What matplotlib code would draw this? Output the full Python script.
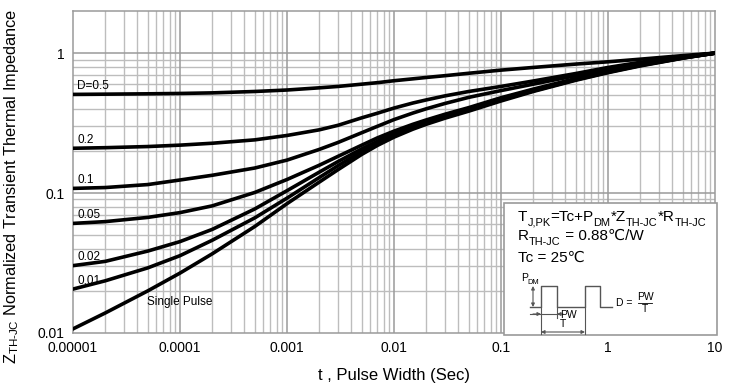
import numpy as np
import matplotlib.pyplot as plt
from matplotlib.patches import Rectangle
from matplotlib.transforms import offset_copy

plt.rcParams['font.family'] = ['Liberation Sans', 'DejaVu Sans']
plt.rcParams['mathtext.fontset'] = 'custom'
plt.rcParams['mathtext.rm'] = 'Liberation Sans'
plt.rcParams['mathtext.it'] = 'Liberation Sans'
plt.rcParams['mathtext.bf'] = 'Liberation Sans:bold'

# pulse width (s)
t = [1e-5, 2e-5, 5e-5, 1e-4, 2e-4, 5e-4, 1e-3, 2e-3, 3e-3, 5e-3, 7e-3, 1e-2,
     1.5e-2, 2e-2, 3e-2, 5e-2, 0.1, 0.2, 0.5, 1, 2, 5, 10]

# normalized Zth-jc
z_d05 = [0.507, 0.509, 0.512, 0.515, 0.52, 0.532, 0.545, 0.565, 0.578, 0.60, 0.615, 0.635,
         0.655, 0.67, 0.69, 0.718, 0.756, 0.79, 0.835, 0.867, 0.905, 0.96, 1.0]
z_d02 = [0.209, 0.211, 0.215, 0.22, 0.227, 0.24, 0.258, 0.283, 0.305, 0.345, 0.372, 0.405,
         0.44, 0.463, 0.495, 0.532, 0.578, 0.632, 0.715, 0.79, 0.86, 0.945, 1.0]
z_d01 = [0.108, 0.1095, 0.115, 0.124, 0.134, 0.151, 0.172, 0.205, 0.23, 0.27, 0.30, 0.335,
         0.373, 0.40, 0.437, 0.483, 0.54, 0.60, 0.69, 0.77, 0.845, 0.935, 1.0]
z_d005 = [0.0607, 0.0625, 0.067, 0.0725, 0.081, 0.101, 0.125, 0.158, 0.183, 0.22, 0.248, 0.277,
          0.31, 0.333, 0.366, 0.408, 0.48, 0.553, 0.658, 0.745, 0.827, 0.928, 1.0]
z_d002 = [0.0303, 0.0325, 0.0385, 0.045, 0.055, 0.077, 0.104, 0.141, 0.168, 0.207, 0.235, 0.266,
          0.30, 0.323, 0.357, 0.40, 0.47, 0.543, 0.65, 0.735, 0.82, 0.925, 1.0]
z_d001 = [0.0206, 0.0236, 0.0292, 0.0357, 0.046, 0.0665, 0.092, 0.129, 0.157, 0.198, 0.227, 0.258,
          0.292, 0.316, 0.35, 0.392, 0.463, 0.537, 0.645, 0.73, 0.815, 0.923, 1.0]
z_single = [0.0107, 0.0139, 0.020, 0.0268, 0.0368, 0.0577, 0.084, 0.1197, 0.147, 0.189, 0.219, 0.251,
            0.286, 0.31, 0.343, 0.385, 0.455, 0.532, 0.64, 0.725, 0.81, 0.92, 1.0]

curves = [z_d05, z_d02, z_d01, z_d005, z_d002, z_d001, z_single]
labels = ['D=0.5', '0.2', '0.1', '0.05', '0.02', '0.01', None]

x_ticks = [1e-5, 1e-4, 1e-3, 1e-2, 0.1, 1, 10]
x_ticklabels = ['0.00001', '0.0001', '0.001', '0.01', '0.1', '1', '10']
y_ticks = [0.01, 0.1, 1]
y_ticklabels = ['0.01', '0.1', '1']

fig = plt.figure(figsize=(7.37, 3.89), dpi=100)
ax = fig.add_axes([73/737, 1-333/389, 642/737, 322/389])
ax.set_xscale('log')
ax.set_yscale('log')
ax.set_xlim(1e-5, 10)
ax.set_ylim(0.01, 2)

# grid
for dec in range(-5, 1):
    for k in range(2, 10):
        ax.axvline(k * 10.0**dec, color='#bdbdbd', lw=1.0, zorder=0)
for dec in range(-2, 0):
    for k in range(2, 10):
        ax.axhline(k * 10.0**dec, color='#bdbdbd', lw=1.0, zorder=0)
for v in x_ticks[1:-1]:
    ax.axvline(v, color='#9a9a9a', lw=1.1, zorder=0)
ax.axhline(0.1, color='#9a9a9a', lw=1.1, zorder=0)
ax.axhline(1, color='#9a9a9a', lw=1.1, zorder=0)

for z, lab in zip(curves, labels):
    ax.plot(t, z, color='black', lw=2.6, solid_joinstyle='round', zorder=3)
    if lab:
        ax.text(1.1e-5, z[0] * 1.15, lab, fontsize=8.5, ha='left', va='center', zorder=4)
ax.text(1e-4, 0.0167, 'Single Pulse', fontsize=8.5, ha='center', va='center', zorder=4)

ax.set_xticks(x_ticks)
ax.set_xticklabels(x_ticklabels)
ax.set_yticks(y_ticks)
ax.set_yticklabels(y_ticklabels)
ax.minorticks_off()
ax.tick_params(length=0, labelsize=10, pad=6)
for s in ax.spines.values():
    s.set_color('#9a9a9a')
    s.set_linewidth(1.1)

ax.set_xlabel('t , Pulse Width (Sec)', fontsize=12, labelpad=9)
ax.set_ylabel(r'Z$_{\text{TH-JC}}$ Normalized Transient Thermal Impedance', fontsize=11.8)
ax.yaxis.set_label_coords(-0.081, 0.455)

# info box, drawn in figure pixel coordinates
box = fig.add_axes([503/737, 1-336/389, 215/737, 134/389])
box.set_xlim(503, 718)
box.set_ylim(336, 202)
box.axis('off')
box.add_patch(Rectangle((503.5, 202.5), 213.5, 132.5, facecolor='white', edgecolor='#9a9a9a', lw=1.2))

renderer = fig.canvas.get_renderer()


def rich(x, y, parts, fs):
    # parts: list of (text, is_subscript); text drawn left to right from (x, y) baseline
    dx = 0.0
    for s, sub in parts:
        size = fs * 0.72 if sub else fs
        dy = -fs * 0.32 if sub else 0.0
        tr = offset_copy(box.transData, fig=fig, x=dx, y=dy, units='points')
        txt = box.text(x, y, s, fontsize=size, transform=tr, ha='left', va='baseline')
        dx += txt.get_window_extent(renderer).width * 72.0 / fig.dpi


rich(518, 221, [('T', 0), ('J,PK', 1), ('=Tc+P', 0), ('DM', 1), ('*Z', 0), ('TH-JC', 1),
                ('*R', 0), ('TH-JC', 1)], 11)
rich(518, 240, [('R', 0), ('TH-JC', 1), (' = 0.88℃/W', 0)], 11)
rich(518, 262, [('Tc = 25℃', 0)], 11)

wc = '#555555'
box.plot([530, 541, 541, 557, 557, 585, 585, 600, 600, 612],
         [307, 307, 286, 286, 307, 307, 286, 286, 307, 307], color=wc, lw=1.0)
rich(521, 281, [('P', 0), ('DM', 1)], 7.5)
box.annotate('', xy=(533, 286), xytext=(533, 307),
             arrowprops=dict(arrowstyle='<|-|>', color=wc, lw=0.8, mutation_scale=5,
                             shrinkA=0, shrinkB=0))
box.plot([541, 541], [307, 334], color=wc, lw=0.8)
box.plot([557, 557], [307, 318], color=wc, lw=0.8)
box.plot([585, 585], [307, 334], color=wc, lw=0.8)
box.plot([530, 558], [314, 314], color=wc, lw=0.8)
box.annotate('', xy=(541, 314), xytext=(533, 314),
             arrowprops=dict(arrowstyle='-|>', color=wc, lw=0.8, mutation_scale=5,
                             shrinkA=0, shrinkB=0))
box.annotate('', xy=(557, 314), xytext=(563, 314),
             arrowprops=dict(arrowstyle='-|>', color=wc, lw=0.8, mutation_scale=5,
                             shrinkA=0, shrinkB=0))
box.text(560, 315, 'PW', fontsize=7.5, va='center', ha='left')
box.annotate('', xy=(541, 332), xytext=(585, 332),
             arrowprops=dict(arrowstyle='<|-|>', color=wc, lw=0.8, mutation_scale=5,
                             shrinkA=0, shrinkB=0))
box.text(563, 324, 'T', fontsize=7.5, va='center', ha='center')
box.text(616, 303, 'D =', fontsize=7.5, va='center', ha='left')
box.text(645, 297.5, 'PW', fontsize=7.5, va='center', ha='center')
box.plot([638, 652], [303, 303], color='black', lw=0.6)
box.text(645, 309, 'T', fontsize=7.5, va='center', ha='center')

fig.savefig('out.png', dpi=100)
